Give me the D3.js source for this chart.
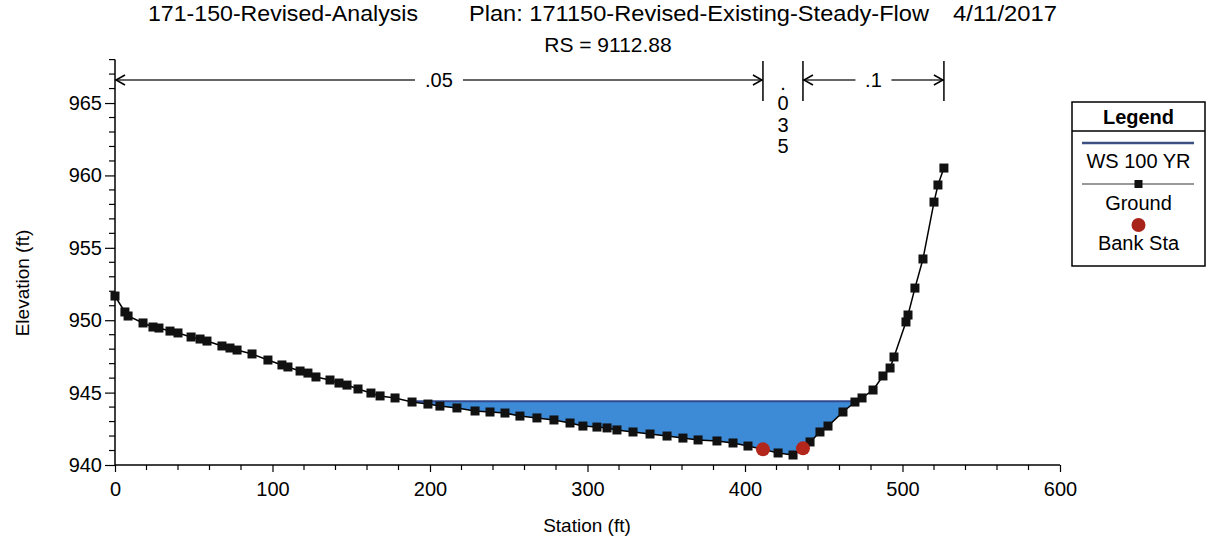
<!DOCTYPE html>
<html><head><meta charset="utf-8">
<script src="https://cdn.jsdelivr.net/npm/d3@7"></script>
<style>
body{margin:0;background:#fff;}
text{font-family:"Liberation Sans",Arial,sans-serif;}
</style></head>
<body><svg id="c" width="1208" height="543"></svg>
<script>
const groundStation = [0,6.3,8.3,17.8,24.1,27.9,34.9,40,48.3,54,58.4,67.9,73,77.5,87,97.1,106,109.8,117.5,122.5,127.6,136.5,142.2,147.3,154.3,162.5,168.3,177.8,188.6,198.7,206.3,217.1,228.6,238.1,247.6,257.1,267.9,278.7,288.9,297.1,306,312.4,318.7,328.9,339.7,350.5,360.6,370.2,382.2,392.4,401.9,411.4,421,430.5,436.8,441.3,447.6,452.7,462.2,469.8,474.3,481.3,487.6,492.1,494.6,502.2,503.5,507.9,513,520,522.5,526.3];
const groundElev = [951.67,950.57,950.29,949.81,949.53,949.46,949.25,949.12,948.84,948.70,948.56,948.22,948.08,947.94,947.67,947.25,946.91,946.77,946.49,946.35,946.08,945.87,945.66,945.52,945.25,944.97,944.77,944.63,944.35,944.21,944.07,943.94,943.73,943.66,943.59,943.38,943.25,943.11,942.90,942.69,942.62,942.56,942.42,942.28,942.14,942.00,941.86,941.73,941.66,941.52,941.31,941.08,940.83,940.69,941.15,941.59,942.28,942.69,943.66,944.35,944.63,945.18,946.15,946.70,947.46,949.88,950.36,952.22,954.23,958.16,959.34,960.51];
const bankStation = [411.4, 436.8];
const bankElev = [941.08, 941.15];
const wsElev = 944.4;
const nValues = [".05", ".035", ".1"];
const nBreaks = [0, 411.4, 436.8, 526.3];
const xTicks = [0,100,200,300,400,500,600];
const yTicks = [940,945,950,955,960,965];
const legendItems = ["WS 100 YR","Ground","Bank Sta"];

const svg = d3.select("#c");
const x = d3.scaleLinear().domain([0,600]).range([115,1060]);
const y = d3.scaleLinear().domain([940,968]).range([465,59.6]);

// Titles
const title = (tx,x0,w,t)=>svg.append("text").attr("x",x0).attr("y",21).attr("font-size",22.5)
  .attr("textLength",w).attr("lengthAdjust","spacingAndGlyphs").text(t);
title(0,148,270,"171-150-Revised-Analysis");
title(0,469,460,"Plan: 171150-Revised-Existing-Steady-Flow");
title(0,953,104,"4/11/2017");
svg.append("text").attr("x",608).attr("y",52).attr("font-size",21).attr("text-anchor","middle").text("RS = 9112.88");

// water polygon
const ground = groundStation.map((s,i)=>({s, e: groundElev[i]}));
const pts = [];
for (let i=0;i<ground.length;i++){
  const g = ground[i];
  if (i>0){
    const p = ground[i-1];
    if ((p.e-wsElev)*(g.e-wsElev)<0){
      const t=(wsElev-p.e)/(g.e-p.e);
      pts.push({s:p.s+t*(g.s-p.s), e:wsElev});
    }
  }
  if (g.e<=wsElev) pts.push(g);
}
const area = d3.area().x(d=>x(d.s)).y0(y(wsElev)).y1(d=>y(d.e));
svg.append("path").datum(pts).attr("d",area).attr("fill","#3d8ad6");
svg.append("line").attr("x1",x(pts[0].s)).attr("x2",x(pts[pts.length-1].s))
  .attr("y1",y(wsElev)).attr("y2",y(wsElev)).attr("stroke","#334a8c").attr("stroke-width",2);

// axes
const yAxis = d3.axisLeft(y).tickValues(yTicks).tickSize(10).tickPadding(3).tickFormat(d3.format("d"));
const gy = svg.append("g").attr("transform","translate(115,0)").call(yAxis);
const yMinor = d3.range(940,969,1).filter(v=>v%5!==0);
svg.append("g").selectAll("line").data(yMinor).join("line")
  .attr("x1",109).attr("x2",115).attr("y1",d=>y(d)).attr("y2",d=>y(d)).attr("stroke","#000").attr("stroke-width",1.2);
const xAxis = d3.axisBottom(x).tickValues(xTicks).tickSize(7).tickFormat(d3.format("d"));
const gx = svg.append("g").attr("transform","translate(0,465)").call(xAxis);
const xMinor = d3.range(0,601,20).filter(v=>v%100!==0);
svg.append("g").selectAll("line").data(xMinor).join("line")
  .attr("x1",d=>x(d)).attr("x2",d=>x(d)).attr("y1",465).attr("y2",470).attr("stroke","#000").attr("stroke-width",1.2);
[gx,gy].forEach(g=>{
  g.select(".domain").attr("stroke","#000").attr("stroke-width",1.5);
  g.selectAll(".tick line").attr("stroke","#000").attr("stroke-width",1.2);
  g.selectAll(".tick text").attr("font-size",20).attr("font-family","Liberation Sans, Arial, sans-serif").attr("fill","#000");
});
gy.select(".domain").attr("d","M-0,465V59.6");
gx.select(".domain").attr("d","M115,0H1060");
gx.selectAll(".tick text").attr("y",31).attr("dy",null);

svg.append("text").attr("transform","translate(29,283) rotate(-90)").attr("text-anchor","middle")
  .attr("font-size",19).text("Elevation (ft)");
svg.append("text").attr("x",587).attr("y",532).attr("text-anchor","middle").attr("font-size",19).text("Station (ft)");

// Manning n
const nY = 80;
const nLine = (xa,xb,lab)=>{
  const g = svg.append("g");
  const mid = (xa+xb)/2;
  const hw = lab.length*6+6;
  g.append("line").attr("x1",xa).attr("x2",mid-hw).attr("y1",nY).attr("y2",nY).attr("stroke","#333").attr("stroke-width",1.3);
  g.append("line").attr("x1",mid+hw).attr("x2",xb).attr("y1",nY).attr("y2",nY).attr("stroke","#333").attr("stroke-width",1.3);
  g.append("path").attr("d",`M${xa+10},${nY-5}L${xa+1},${nY}L${xa+10},${nY+5}`).attr("fill","none").attr("stroke","#000").attr("stroke-width",1.5);
  g.append("path").attr("d",`M${xb-10},${nY-5}L${xb-1},${nY}L${xb-10},${nY+5}`).attr("fill","none").attr("stroke","#000").attr("stroke-width",1.5);
  g.append("text").attr("x",mid).attr("y",nY+7).attr("text-anchor","middle").attr("font-size",20).text(lab);
};
nLine(x(nBreaks[0]),x(nBreaks[1]),nValues[0]);
nLine(x(nBreaks[2]),x(nBreaks[3]),nValues[2]);
[nBreaks[1],nBreaks[2],nBreaks[3]].forEach(b=>{
  svg.append("line").attr("x1",x(b)).attr("x2",x(b)).attr("y1",61).attr("y2",101).attr("stroke","#000").attr("stroke-width",1.5);
});
const midS = x((nBreaks[1]+nBreaks[2])/2);
nValues[1].split("").forEach((ch,i)=>{
  svg.append("text").attr("x",midS).attr("y",[90,110,132,153][i]).attr("text-anchor","middle").attr("font-size",20).text(ch);
});

// ground
const line = d3.line().x(d=>x(d.s)).y(d=>y(d.e));
svg.append("path").datum(ground).attr("d",line).attr("fill","none").attr("stroke","#000").attr("stroke-width",1.5);
svg.append("g").selectAll("rect").data(ground).join("rect")
  .attr("x",d=>x(d.s)-4.5).attr("y",d=>y(d.e)-4.5).attr("width",9).attr("height",9).attr("fill","#111");
svg.append("g").selectAll("circle").data(bankStation).join("circle")
  .attr("cx",d=>x(d)).attr("cy",(d,i)=>y(bankElev[i])).attr("r",7).attr("fill","#b3261c");

// legend
const L = svg.append("g");
const lx0=1072, lx1=1205, lc=(lx0+lx1)/2;
L.append("rect").attr("x",lx0).attr("y",102).attr("width",lx1-lx0).attr("height",164).attr("fill","#fff").attr("stroke","#000").attr("stroke-width",1.5);
L.append("line").attr("x1",lx0).attr("x2",lx1).attr("y1",131).attr("y2",131).attr("stroke","#000").attr("stroke-width",1.5);
L.append("text").attr("x",lc).attr("y",124).attr("text-anchor","middle").attr("font-size",20).attr("font-weight","bold").text("Legend");
L.append("line").attr("x1",1082).attr("x2",1194).attr("y1",143).attr("y2",143).attr("stroke","#3e4f82").attr("stroke-width",2.5);
L.append("text").attr("x",lc).attr("y",168).attr("text-anchor","middle").attr("font-size",20).text(legendItems[0]);
L.append("line").attr("x1",1082).attr("x2",1194).attr("y1",184).attr("y2",184).attr("stroke","#777").attr("stroke-width",1.5);
L.append("rect").attr("x",lc-4).attr("y",180).attr("width",8).attr("height",8).attr("fill","#111");
L.append("text").attr("x",lc).attr("y",210).attr("text-anchor","middle").attr("font-size",20).text(legendItems[1]);
L.append("circle").attr("cx",lc).attr("cy",225).attr("r",7).attr("fill","#a8231a");
L.append("text").attr("x",lc).attr("y",250).attr("text-anchor","middle").attr("font-size",20).text(legendItems[2]);
</script></body></html>
